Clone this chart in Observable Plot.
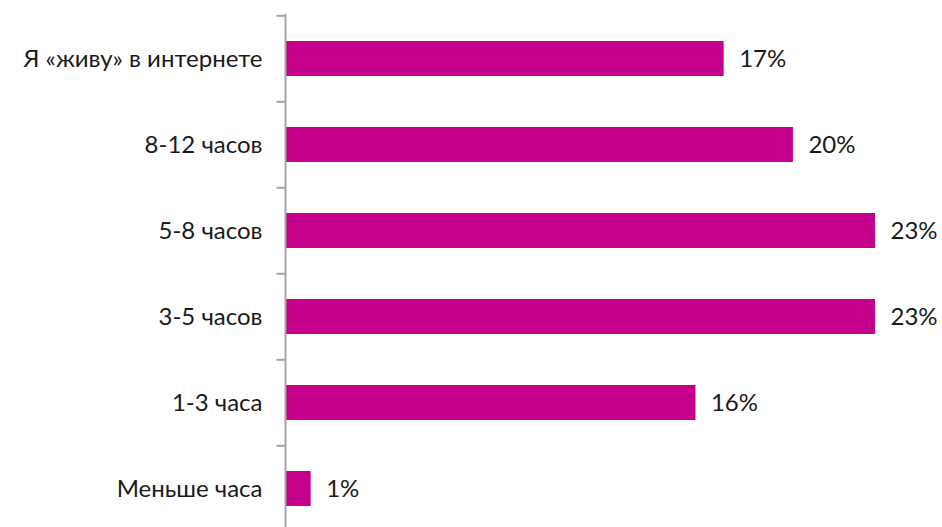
<!DOCTYPE html>
<html><head><meta charset="utf-8">
<script src="https://cdn.jsdelivr.net/npm/d3@7"></script>
<script src="https://cdn.jsdelivr.net/npm/@observablehq/plot@0.6"></script>
<style>body{margin:0;background:#fff}</style>
</head><body><div id="chart"></div>
<script>
const categories = ["Я «живу» в интернете","8-12 часов","5-8 часов","3-5 часов","1-3 часа","Меньше часа"];
const values = [17.1, 19.8, 23, 23, 16, 1];
const labels = ["17%","20%","23%","23%","16%","1%"];
const data = categories.map((c,i)=>({cat:c, v:values[i], label:labels[i]}));
const bandTop = 14, bandStep = 86.4;
const chart = Plot.plot({
  width: 942, height: 527,
  marginLeft: 285, marginRight: 67, marginTop: 0, marginBottom: 0,
  style: {fontFamily: "Lato, sans-serif", fontSize: "24px", color: "#1a1a1a", background: "#fff"},
  x: {domain: [0, 23], axis: null},
  y: {domain: categories, range: [bandTop, bandTop + bandStep*categories.length], padding: 0.59, paddingOuter: 0.295, label: null},
  marks: [
    Plot.barX(data, {y: "cat", x: "v", fill: "#C4008C"}),
    Plot.text(data, {y: "cat", x: "v", text: "label", textAnchor: "start", dx: 15, fill: "#1a1a1a", fontSize: 24}),
    Plot.axisY({tickSize: 0, tickPadding: 23, fontSize: 24, fill: "#1a1a1a"}),
    Plot.ruleY(categories, {y: d=>d, x1: -0.33, x2: 0, dy: -bandStep/2, stroke: "#a6a6a6", strokeWidth: 2}),
    Plot.ruleX([0], {stroke: "#a6a6a6", strokeWidth: 2, insetTop: bandTop})
  ]
});
document.getElementById("chart").append(chart);
</script></body></html>
